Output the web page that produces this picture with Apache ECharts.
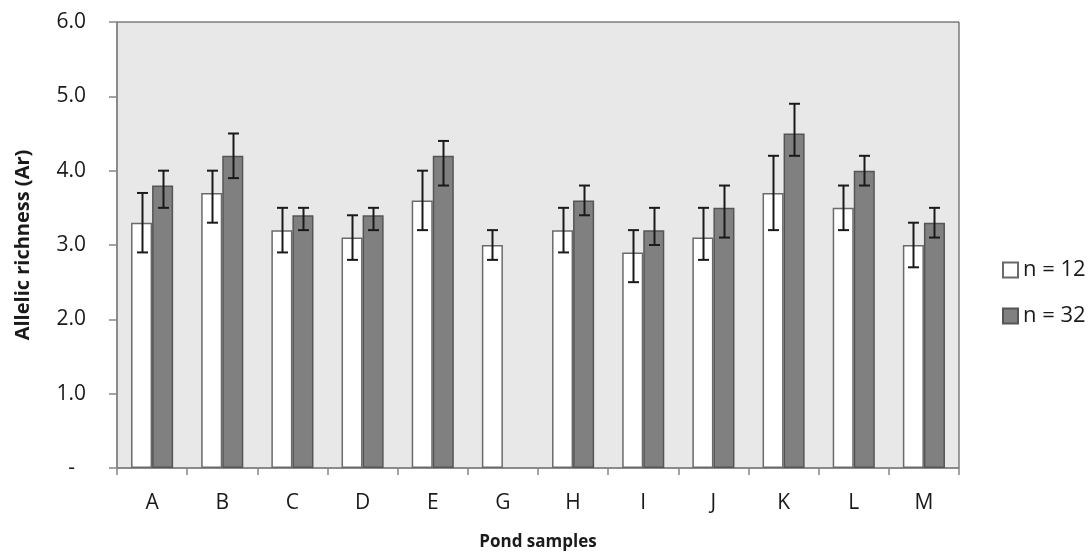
<!DOCTYPE html>
<html>
<head>
<meta charset="utf-8">
<script src="https://cdn.jsdelivr.net/npm/echarts@6/dist/echarts.min.js"></script>
<style>
  html, body { margin: 0; padding: 0; background: #fff; }
  #chart { width: 1090px; height: 557px; }
</style>
</head>
<body>
<div id="chart"></div>
<script>
// data
const categories = ['A', 'B', 'C', 'D', 'E', 'G', 'H', 'I', 'J', 'K', 'L', 'M'];
const n12 = [3.3, 3.7, 3.2, 3.1, 3.6, 3.0, 3.2, 2.9, 3.1, 3.7, 3.5, 3.0];
const n12Low = [2.9, 3.3, 2.9, 2.8, 3.2, 2.8, 2.9, 2.5, 2.8, 3.2, 3.2, 2.7];
const n12High = [3.7, 4.0, 3.5, 3.4, 4.0, 3.2, 3.5, 3.2, 3.5, 4.2, 3.8, 3.3];
const n32 = [3.8, 4.2, 3.4, 3.4, 4.2, null, 3.6, 3.2, 3.5, 4.5, 4.0, 3.3];
const n32Low = [3.5, 3.9, 3.2, 3.2, 3.8, null, 3.4, 3.0, 3.1, 4.2, 3.8, 3.1];
const n32High = [4.0, 4.5, 3.5, 3.5, 4.4, null, 3.8, 3.5, 3.8, 4.9, 4.2, 3.5];

const FONT = 'Open Sans';

function errData(lows, highs) {
    const out = [];
    lows.forEach((lo, i) => {
        if (lo != null) out.push([i, lo, highs[i]]);
    });
    return out;
}

// error bars drawn next to grouped bars (each bar is 30% of band)
function errorBars(offset) {
    return function (params, api) {
        const i = api.value(0);
        const lo = api.coord([i, api.value(1)]);
        const hi = api.coord([i, api.value(2)]);
        const band = api.size([1, 0])[0];
        const x = Math.round(lo[0] + offset * band) + 0.5;
        const cap = 5.5;
        const st = { stroke: '#1a1a1a', lineWidth: 2 };
        return {
            type: 'group',
            children: [
                { type: 'line', shape: { x1: x, y1: lo[1], x2: x, y2: hi[1] }, style: st },
                { type: 'line', shape: { x1: x - cap, y1: lo[1], x2: x + cap, y2: lo[1] }, style: st },
                { type: 'line', shape: { x1: x - cap, y1: hi[1], x2: x + cap, y2: hi[1] }, style: st }
            ]
        };
    };
}

const chartDom = document.getElementById('chart');
const myChart = echarts.init(chartDom);

const option = {
    animation: false,
    textStyle: { fontFamily: FONT },
    grid: {
        left: 117,
        right: 131,
        top: 22,
        bottom: 89,
        show: true,
        backgroundColor: '#e8e8e8',
        borderColor: '#404040',
        borderWidth: 1
    },
    legend: {
        orient: 'vertical',
        left: 997,
        top: 254,
        itemWidth: 15,
        itemHeight: 15,
        itemGap: 24,
        icon: 'rect',
        textStyle: { fontFamily: FONT, fontSize: 22, color: '#1a1a1a' },
        data: ['n = 12', 'n = 32']
    },
    xAxis: {
        type: 'category',
        data: categories,
        name: 'Pond samples',
        nameLocation: 'middle',
        nameGap: 66,
        nameTextStyle: { fontFamily: FONT, fontSize: 17, fontWeight: 'bold', color: '#1a1a1a' },
        axisLine: { lineStyle: { color: '#868686', width: 1.5 } },
        axisTick: { show: true, length: 7, lineStyle: { color: '#868686', width: 1.5 } },
        axisLabel: { fontFamily: FONT, fontSize: 21, color: '#1a1a1a', margin: 25 }
    },
    yAxis: {
        type: 'value',
        min: 0,
        max: 6,
        interval: 1,
        name: 'Allelic richness (Ar)',
        nameLocation: 'middle',
        nameGap: 84,
        nameTextStyle: { fontFamily: FONT, fontSize: 20, fontWeight: 'bold', color: '#1a1a1a' },
        splitLine: { show: false },
        axisLine: { show: true, lineStyle: { color: '#868686', width: 1.5 } },
        axisTick: { show: true, length: 8, lineStyle: { color: '#868686', width: 1.5 } },
        axisLabel: {
            fontFamily: FONT,
            fontSize: 21,
            color: '#1a1a1a',
            margin: 31,
            formatter: v => (v === 0 ? '-  ' : v.toFixed(1))
        }
    },
    series: [
        {
            name: 'n = 12',
            type: 'bar',
            data: n12,
            barWidth: '30%',
            barGap: '0%',
            itemStyle: { color: '#ffffff', borderColor: '#6a6a6a', borderWidth: 1.5 }
        },
        {
            name: 'n = 32',
            type: 'bar',
            data: n32,
            barWidth: '30%',
            barGap: '0%',
            itemStyle: { color: '#808080', borderColor: '#555555', borderWidth: 1.5 }
        },
        {
            type: 'custom',
            renderItem: errorBars(-0.15),
            data: errData(n12Low, n12High),
            encode: { x: 0, y: [1, 2] },
            z: 10,
            silent: true
        },
        {
            type: 'custom',
            renderItem: errorBars(0.15),
            data: errData(n32Low, n32High),
            encode: { x: 0, y: [1, 2] },
            z: 10,
            silent: true
        }
    ]
};

myChart.setOption(option);

window.addEventListener('resize', () => {
    myChart.resize();
});
</script>
</body>
</html>
